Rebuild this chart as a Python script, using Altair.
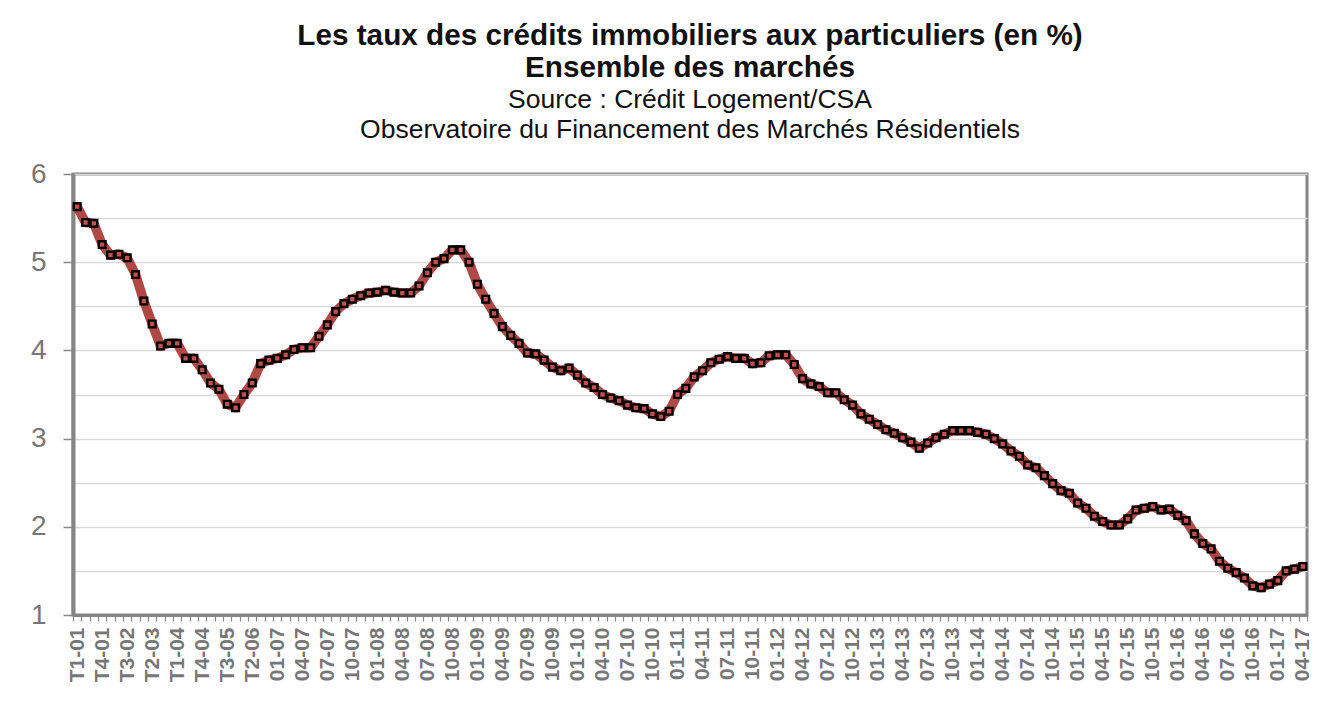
import json
import altair as alt
import pandas as pd

# ---- data ----
# quarterly values 2001 Q1 .. 2006 Q4
quarter_labels = [f"T{q}-{y:02d}" for y in range(1, 7) for q in range(1, 5)]
quarter_values = [5.63, 5.45, 5.44, 5.20, 5.08, 5.09, 5.05, 4.86,
                  4.56, 4.30, 4.05, 4.08, 4.08, 3.91, 3.91, 3.78,
                  3.63, 3.56, 3.39, 3.35, 3.50, 3.63, 3.85, 3.89]

# monthly values 2007-01 .. 2017-04
m2007 = [3.91, 3.95, 4.01, 4.03, 4.03, 4.16, 4.29, 4.44, 4.53, 4.58, 4.62, 4.65]
m2008 = [4.66, 4.68, 4.66, 4.65, 4.65, 4.73, 4.88, 5.00, 5.04, 5.14, 5.14, 5.00]
m2009 = [4.75, 4.58, 4.42, 4.27, 4.17, 4.08, 3.97, 3.96, 3.89, 3.81, 3.77, 3.80]
m2010 = [3.72, 3.63, 3.58, 3.50, 3.46, 3.43, 3.38, 3.35, 3.34, 3.28, 3.25, 3.31]
m2011 = [3.50, 3.57, 3.70, 3.77, 3.86, 3.90, 3.93, 3.91, 3.91, 3.85, 3.86, 3.94]
m2012 = [3.95, 3.95, 3.84, 3.68, 3.62, 3.59, 3.52, 3.52, 3.44, 3.38, 3.28, 3.22]
m2013 = [3.16, 3.10, 3.06, 3.01, 2.96, 2.89, 2.95, 3.01, 3.05, 3.09, 3.09, 3.09]
m2014 = [3.07, 3.05, 3.00, 2.94, 2.86, 2.80, 2.70, 2.67, 2.58, 2.49, 2.41, 2.38]
m2015 = [2.27, 2.21, 2.12, 2.06, 2.02, 2.02, 2.09, 2.19, 2.21, 2.23, 2.19, 2.20]
m2016 = [2.13, 2.07, 1.92, 1.81, 1.75, 1.61, 1.53, 1.48, 1.42, 1.33, 1.31, 1.35]
m2017 = [1.39, 1.50, 1.52, 1.55]
monthly_years = [7, 8, 9, 10, 11, 12, 13, 14, 15, 16, 17]
monthly_values = [m2007, m2008, m2009, m2010, m2011, m2012, m2013, m2014, m2015, m2016, m2017]

month_labels = []
month_vals = []
for yr, vals in zip(monthly_years, monthly_values):
    for i, v in enumerate(vals):
        month_labels.append(f"{i + 1:02d}-{yr:02d}")
        month_vals.append(v)

categories = quarter_labels + month_labels
values = quarter_values + month_vals
shown_labels = categories[::3]

y_ticks = [1, 1.5, 2, 2.5, 3, 3.5, 4, 4.5, 5, 5.5, 6]

df = pd.DataFrame({"periode": categories, "taux": values})

FONT = "Liberation Sans"
GRAY = "#868686"
LABEL_GRAY = "#777777"
LINE_RED = "#b04845"
MARK_RED = "#c4504c"

x_enc = alt.X(
    "periode:N",
    sort=categories,
    scale=alt.Scale(type="band", paddingInner=0, paddingOuter=0),
    axis=alt.Axis(
        title=None,
        tickBand="extent",
        labelAngle=-90,
        labelOverlap=False,
        labelExpr=f"indexof({json.dumps(shown_labels)}, datum.value) >= 0 ? datum.label : ''",
        labelFont=FONT,
        labelFontSize=21,
        labelFontWeight="bold",
        labelColor=LABEL_GRAY,
        labelPadding=6,
        tickColor=GRAY,
        tickSize=6,
        tickWidth=1.2,
        domainColor=GRAY,
        domainWidth=3,
        grid=False,
    ),
)

y_enc = alt.Y(
    "taux:Q",
    scale=alt.Scale(domain=[1, 6], nice=False, zero=False),
    axis=alt.Axis(
        title=None,
        values=y_ticks,
        labelExpr="datum.value % 1 == 0 ? format(datum.value, 'd') : ''",
        labelFont=FONT,
        labelFontSize=28,
        labelColor=LABEL_GRAY,
        labelPadding=17,
        tickColor=alt.expr(f"datum.value % 1 == 0 ? '{GRAY}' : 'transparent'"),
        tickSize=10,
        tickWidth=1.5,
        domainColor=GRAY,
        domainWidth=4,
        grid=True,
        gridColor="#d9d9d9",
        gridWidth=1.5,
    ),
)

base = alt.Chart(df).encode(x=x_enc, y=y_enc)

line = base.mark_line(color=LINE_RED, strokeWidth=9.5, strokeJoin="round", strokeCap="round")
points = base.mark_point(
    shape="square", filled=True, fill=MARK_RED, stroke="black",
    strokeWidth=2.4, size=45, opacity=1,
)

chart = (
    alt.layer(line, points)
    .properties(
        width=1234,
        height=441,
        autosize=alt.AutoSizeParams(type="none"),
        padding={"left": 65, "top": 166, "right": 12, "bottom": 95},
        title=alt.TitleParams(
            text=["Les taux des crédits immobiliers aux particuliers (en %)", "Ensemble des marchés"],
            subtitle=["Source : Crédit Logement/CSA",
                      "Observatoire du Financement des Marchés Résidentiels"],
            anchor="middle",
            font=FONT,
            fontSize=29.7,
            fontWeight="bold",
            color="#111111",
            lineHeight=32,
            subtitleFont=FONT,
            subtitleFontSize=26.5,
            subtitleColor="#111111",
            subtitleLineHeight=30,
            subtitlePadding=3,
            offset=16,
        ),
    )
    .configure_view(stroke=GRAY, strokeWidth=3)
)

chart.save("out.html", embed_options={"renderer": "svg", "actions": False})
